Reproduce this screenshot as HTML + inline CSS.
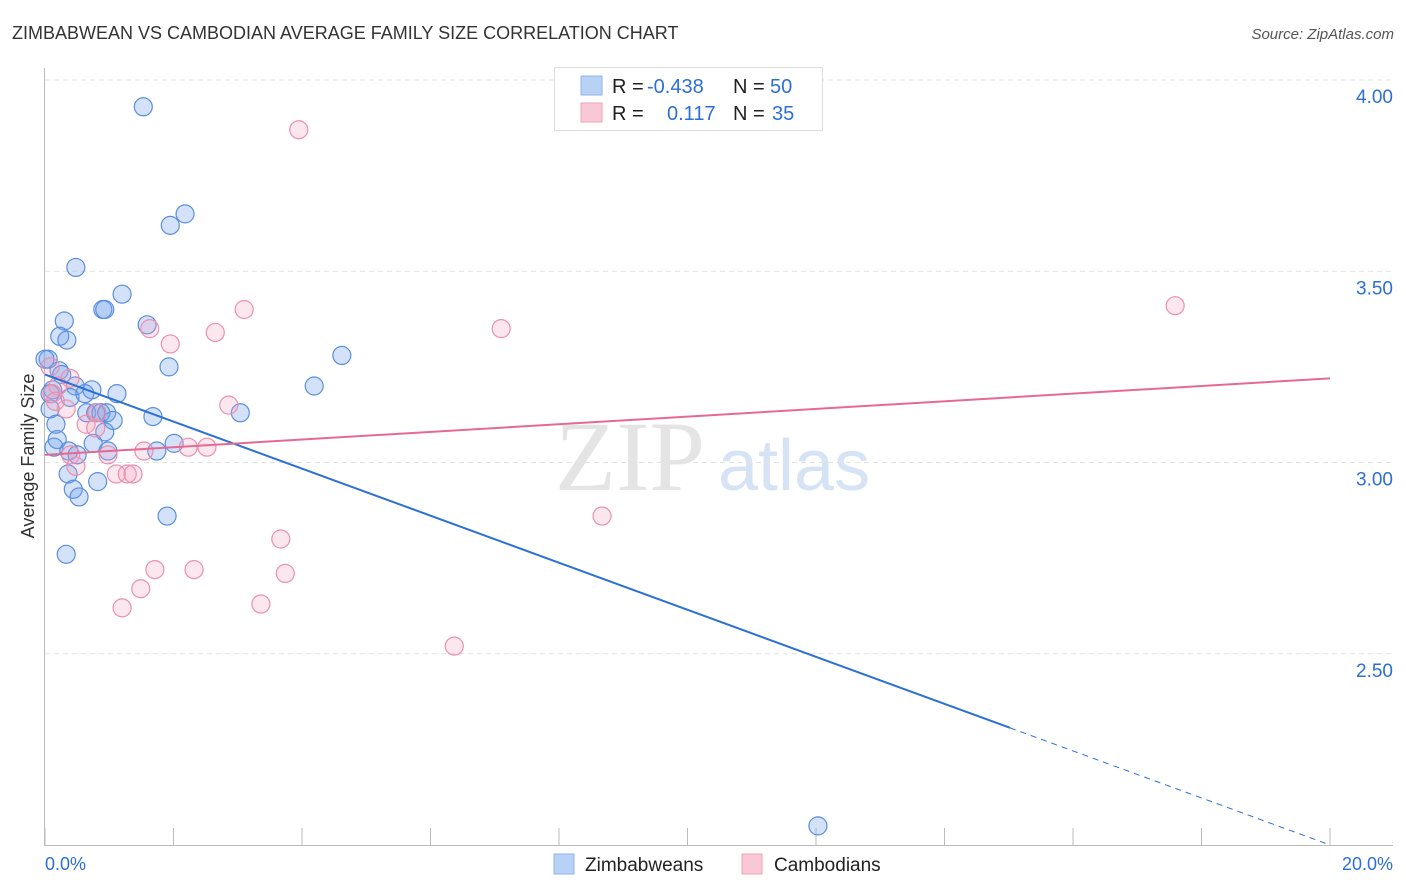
<!DOCTYPE html>
<html><head><meta charset="utf-8"><style>
body{margin:0;background:#fff;font-family:"Liberation Sans",sans-serif;}
svg{display:block}
</style></head><body>
<svg id="c" width="1406" height="892" xmlns="http://www.w3.org/2000/svg">
<text x="12" y="39" font-size="18" fill="#333">ZIMBABWEAN VS CAMBODIAN AVERAGE FAMILY SIZE CORRELATION CHART</text>
<text x="1394" y="39" font-size="15" fill="#555" font-style="italic" text-anchor="end">Source: ZipAtlas.com</text>
<text x="34" y="456" font-size="18" fill="#333" text-anchor="middle" transform="rotate(-90 34 456)">Average Family Size</text>
<text x="555" y="490" font-size="100" fill="#e4e4e4" font-family="Liberation Serif,serif">ZIP</text>
<text x="718" y="490" font-size="72" fill="#d6e3f5">atlas</text>
<g id="grid"></g><g id="pts"></g><g id="lines"></g>
<g>
<rect x="554.5" y="67.5" width="268" height="63" fill="#fff" stroke="#ddd"/>
<rect x="581" y="76" width="21" height="19" fill="#b8d2f5" stroke="#8fb4ea"/>
<rect x="581" y="103" width="21" height="19" fill="#f9c8d7" stroke="#f0a3bb"/>
<text font-size="20" fill="#222"><tspan x="612" y="93">R = </tspan><tspan x="647" fill="#2c6fd6">-0.438</tspan><tspan x="733">N = </tspan><tspan x="770" fill="#2c6fd6">50</tspan></text>
<text font-size="20" fill="#222"><tspan x="612" y="120">R = </tspan><tspan x="667" fill="#2c6fd6">0.117</tspan><tspan x="733">N = </tspan><tspan x="772" fill="#2c6fd6">35</tspan></text>
</g>
<g>
<rect x="554" y="854" width="20" height="20" fill="#b8d2f5" stroke="#8fb4ea"/>
<text x="585" y="871" font-size="19" fill="#222">Zimbabweans</text>
<rect x="742" y="854" width="20" height="20" fill="#f9c8d7" stroke="#f0a3bb"/>
<text x="774" y="871" font-size="19" fill="#222">Cambodians</text>
</g>
<text x="45" y="870" font-size="18" fill="#2c6fd6">0.0%</text>
<text x="1393" y="870" font-size="18" fill="#2c6fd6" text-anchor="end">20.0%</text>
</svg>
<script>
const yTicks=[4.0,3.5,3.0,2.5];
const yTickLabels=["4.00","3.50","3.00","2.50"];
const xTickVals=[0,2,4,6,8,10,12,14,16,18,20];
const blueX=[1.53,2.18,1.95,0.48,1.20,0.90,0.93,0.30,0.23,0.34,1.59,4.62,1.93,0.05,0.22,0.47,0.73,1.12,0.12,0.39,0.08,0.65,0.79,0.87,0.96,1.06,1.68,3.04,4.19,0.17,0.19,0.93,0.75,2.01,0.14,0.37,0.50,0.98,1.74,0.36,0.44,0.82,0.53,1.90,0.33,12.03,0.08,0.00,0.26,0.62];
const blueY=[3.93,3.65,3.62,3.51,3.44,3.40,3.40,3.37,3.33,3.32,3.36,3.28,3.25,3.27,3.24,3.20,3.19,3.18,3.19,3.17,3.14,3.13,3.13,3.13,3.13,3.11,3.12,3.13,3.20,3.10,3.06,3.08,3.05,3.05,3.04,3.03,3.02,3.03,3.03,2.97,2.93,2.95,2.91,2.86,2.76,2.05,3.18,3.27,3.23,3.18];
const pinkX=[3.95,17.59,3.10,1.63,2.65,1.95,7.10,0.08,0.39,0.20,0.11,0.33,2.86,0.64,0.79,0.81,0.40,1.54,2.23,2.52,0.98,0.48,1.11,1.28,1.37,8.67,3.67,1.71,2.32,3.74,1.49,1.20,3.36,6.37,0.16];
const pinkY=[3.87,3.41,3.40,3.35,3.34,3.31,3.35,3.25,3.22,3.20,3.18,3.14,3.15,3.10,3.09,3.13,3.02,3.03,3.04,3.04,3.02,2.99,2.97,2.97,2.97,2.86,2.80,2.72,2.72,2.71,2.67,2.62,2.63,2.52,3.16];
const blueTrend=[3.23,-0.0615];
const pinkTrend=[3.02,0.01];
const blueSolidEnd=15.02;

const NS="http://www.w3.org/2000/svg";
const sx=v=>45+v/20*1285, sy=v=>80+(4-v)*382.5;
function mk(t,a,p){const e=document.createElementNS(NS,t);for(const k in a)e.setAttribute(k,a[k]);p.appendChild(e);return e;}
const grid=document.getElementById('grid'),pts=document.getElementById('pts'),lines=document.getElementById('lines');
let ax=mk('line',{x1:44.5,y1:68,x2:44.5,y2:845,stroke:'#bbb'},grid);


let bx=mk('line',{x1:44,y1:845.5,x2:1393,y2:845.5,stroke:'#bbb'},grid);


yTicks.forEach((v,i)=>{
 const g=mk('line',{x1:45,x2:1393,y1:sy(v),y2:sy(v),stroke:'#e2e2e2','stroke-dasharray':'5,4'},grid);
 
 
 const t=mk('text',{x:1393,y:sy(v)+23,'font-size':19,fill:'#2c6fd6','text-anchor':'end'},grid);
 t.textContent=yTickLabels[i];
 
 
});
xTickVals.forEach(v=>{
 const l=mk('line',{x1:sx(v),x2:sx(v),y1:828,y2:845,stroke:'#bbb'},grid);
 
 
});
blueX.forEach((x,i)=>{
 const c=mk('circle',{cx:sx(x),cy:sy(blueY[i]),r:9,fill:'rgba(110,160,235,0.3)',stroke:'#5b8fdc','stroke-width':1.2},pts);
 
 
});
pinkX.forEach((x,i)=>{
 const c=mk('circle',{cx:sx(x),cy:sy(pinkY[i]),r:9,fill:'rgba(245,160,190,0.25)',stroke:'#ec8fae','stroke-width':1.2},pts);
 
 
});
const bf=x=>blueTrend[0]+blueTrend[1]*x, pf=x=>pinkTrend[0]+pinkTrend[1]*x;
let b1=mk('line',{x1:sx(0),y1:sy(bf(0)),x2:sx(blueSolidEnd),y2:sy(bf(blueSolidEnd)),stroke:'#2c6fd6','stroke-width':2},lines);


let b2=mk('line',{x1:sx(blueSolidEnd),y1:sy(bf(blueSolidEnd)),x2:sx(20),y2:sy(bf(20)),stroke:'#2c6fd6','stroke-width':1,'stroke-dasharray':'6,5'},lines);


let p1=mk('line',{x1:sx(0),y1:sy(pf(0)),x2:sx(20),y2:sy(pf(20)),stroke:'#e56a93','stroke-width':2},lines);


</script>
</body></html>
